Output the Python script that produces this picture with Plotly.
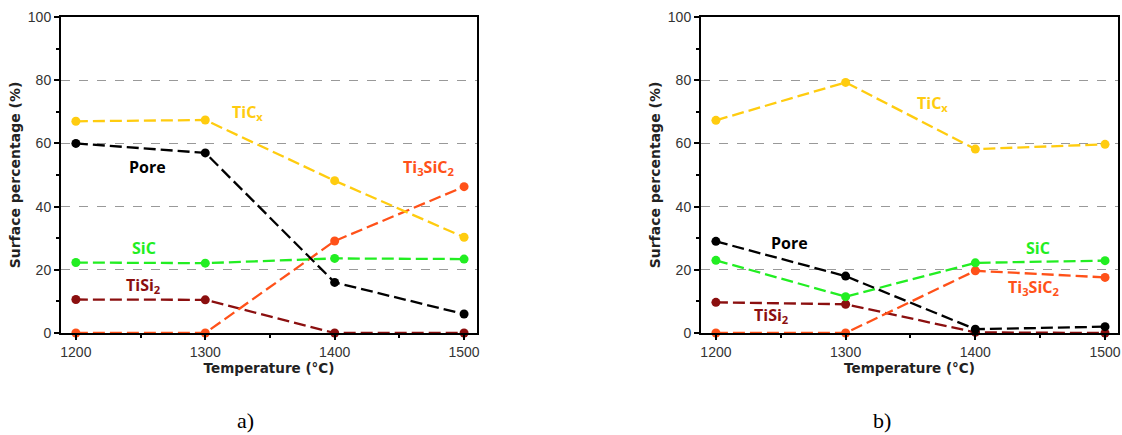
import plotly.graph_objects as go

temps = [1200, 1300, 1400, 1500]

# panel a)
a_tic = [67.0, 67.4, 48.2, 30.3]
a_pore = [60.0, 57.0, 16.0, 6.0]
a_ti3sic2 = [0.0, 0.0, 29.1, 46.3]
a_sic = [22.3, 22.1, 23.6, 23.4]
a_tisi2 = [10.6, 10.5, 0.0, 0.0]

# panel b)
b_tic = [67.3, 79.3, 58.2, 59.7]
b_pore = [29.0, 18.0, 1.2, 2.0]
b_ti3sic2 = [0.0, 0.0, 19.7, 17.6]
b_sic = [23.0, 11.5, 22.2, 22.9]
b_tisi2 = [9.7, 9.1, 0.2, 0.0]

names = ["TiSi2", "Ti3SiC2", "SiC", "Pore", "TiCx"]
colors = {"TiCx": "#FFCC0F", "Pore": "#000000", "Ti3SiC2": "#FF5119",
          "SiC": "#22EE22", "TiSi2": "#8B0F0F"}

series_a = {"TiCx": a_tic, "Pore": a_pore, "Ti3SiC2": a_ti3sic2, "SiC": a_sic, "TiSi2": a_tisi2}
series_b = {"TiCx": b_tic, "Pore": b_pore, "Ti3SiC2": b_ti3sic2, "SiC": b_sic, "TiSi2": b_tisi2}

fig = go.Figure()
for ax, series in (("", series_a), ("2", series_b)):
    for n in names:
        fig.add_trace(go.Scatter(
            x=temps, y=series[n], mode="lines+markers", name=n, showlegend=False,
            line=dict(color=colors[n], width=2.3, dash="12px,5px"),
            marker=dict(color=colors[n], size=9),
            xaxis="x" + ax, yaxis="y" + ax, cliponaxis=False))

W, H = 1122, 435
def px(x): return x / W
def py(y): return 1 - y / H

common_x = dict(range=[1188.5, 1510], tickvals=temps, ticks="outside", ticklen=5,
                tickwidth=1.5, tickcolor="#000", showline=True, linewidth=2, linecolor="#000",
                mirror=True, showgrid=False, zeroline=False, automargin=False,
                minor=dict(ticks="outside", ticklen=3, tickvals=[1250, 1350, 1450], tickcolor="#000"),
                tickfont=dict(family="Liberation Sans, Arial", size=14, color="#333"),
                title=dict(text="<b>Temperature (°C)</b>", standoff=3,
                           font=dict(family="DejaVu Sans", size=13.5, color="#222")))
common_y = dict(range=[0, 100], tickvals=[0, 20, 40, 60, 80, 100], ticks="outside", ticklen=5,
                tickwidth=1.5, tickcolor="#000", showline=True, linewidth=2, linecolor="#000",
                mirror=True, showgrid=True, gridcolor="#999", griddash="dash", gridwidth=1,
                zeroline=False, automargin=False,
                minor=dict(ticks="outside", ticklen=3, tickvals=[10, 30, 50, 70, 90], tickcolor="#000",
                           showgrid=False),
                tickfont=dict(family="Liberation Sans, Arial", size=14, color="#333"),
                title=dict(text="<b>Surface percentage (%)</b>", standoff=4,
                           font=dict(family="DejaVu Sans", size=14, color="#222")))

fig.update_layout(
    width=W, height=H, margin=dict(l=0, r=0, t=0, b=0, autoexpand=False),
    plot_bgcolor="white", paper_bgcolor="white",
    xaxis=dict(common_x, domain=[px(61), px(477)], anchor="y"),
    yaxis=dict(common_y, domain=[py(333), py(17)], anchor="x"),
    xaxis2=dict(common_x, domain=[px(701), px(1118)], anchor="y2"),
    yaxis2=dict(common_y, domain=[py(333), py(17)], anchor="x2"),
)

lab_font = "Open Sans"
def lab(text, x, y, color, xref, yref):
    fig.add_annotation(text="<b>" + text + "</b>", x=x, y=y, xref=xref, yref=yref,
                       xanchor="center", yanchor="middle",
                       showarrow=False, font=dict(family=lab_font, size=16, color=color))

# labels panel a
lab("TiC<sub>x</sub>", 1333, 69.8, colors["TiCx"], "x", "y")
lab("Pore", 1255, 52.5, "#000", "x", "y")
lab("Ti<sub>3</sub>SiC<sub>2</sub>", 1472.5, 52.5, colors["Ti3SiC2"], "x", "y")
lab("SiC", 1253, 27, colors["SiC"], "x", "y")
lab("TiSi<sub>2</sub>", 1252, 15, colors["TiSi2"], "x", "y")
# labels panel b
lab("TiC<sub>x</sub>", 1367, 72.5, colors["TiCx"], "x2", "y2")
lab("Pore", 1257, 28.6, "#000", "x2", "y2")
lab("SiC", 1448.5, 27, colors["SiC"], "x2", "y2")
lab("Ti<sub>3</sub>SiC<sub>2</sub>", 1444.5, 14.5, colors["Ti3SiC2"], "x2", "y2")
lab("TiSi<sub>2</sub>", 1243, 5.5, colors["TiSi2"], "x2", "y2")

for t, x in (("a)", 245), ("b)", 882)):
    fig.add_annotation(text=t, x=px(x), y=py(420), xref="paper", yref="paper", showarrow=False,
                       xanchor="center", yanchor="middle",
                       font=dict(family="Liberation Serif", size=22, color="#000"))

fig.write_html("out.html", config={"displayModeBar": False},
               post_script="document.body.style.margin='0';document.body.style.overflow='hidden';")
